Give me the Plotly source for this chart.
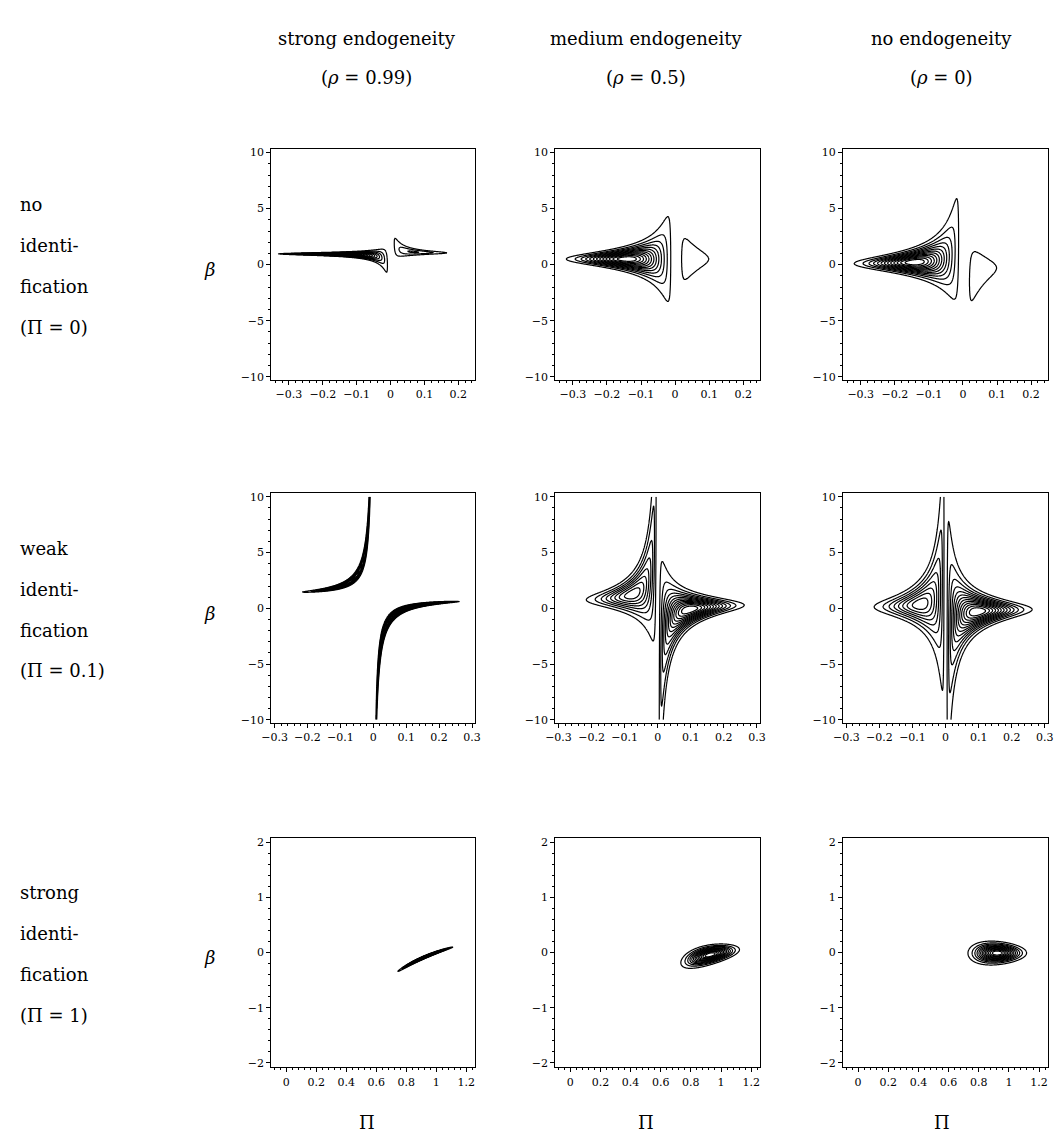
import numpy as np
import plotly.graph_objects as go

# ---------------- data ----------------
rho_values = [0.99, 0.5, 0.0]                 # columns
pi_true = [0, 0.1, 1]                         # rows
col_titles = ["strong endogeneity", "medium endogeneity", "no endogeneity"]
col_subtitles = ["(<i>ρ</i> = 0.99)", "(<i>ρ</i> = 0.5)", "(<i>ρ</i> = 0)"]
row_labels = [["no", "identi-", "fication", "(Π = 0)"],
              ["weak", "identi-", "fication", "(Π = 0.1)"],
              ["strong", "identi-", "fication", "(Π = 1)"]]

# reduced-form estimates (Π̂, Π̂β̂) and their standard error, per panel [row][col]
pi_hat = [[-0.07, -0.09, -0.09],
          [0.02, 0.02, 0.02],
          [0.92, 0.92, 0.915]]
pibeta_hat = [[-0.0593, -0.045, -0.03],
              [-0.0802, -0.048, -0.028],
              [-0.0792, -0.042, -0.009]]
std_err = [[0.095, 0.085, 0.085],
           [0.085, 0.085, 0.085],
           [0.08, 0.085, 0.085]]
n_levels = 13

# axes per row
x_ranges = [[-0.352, 0.25], [-0.31, 0.31], [-0.1, 1.26]]
y_ranges = [[-10.3, 10.3], [-10.3, 10.3], [-2.08, 2.08]]
x_dtick = [0.1, 0.1, 0.2]
x_minor = [0.02, 0.02, 0.04]
y_dtick = [5, 5, 1]
y_minor = [1, 1, 0.2]
grid_pi = [[-0.35, 0.25], [-0.3, 0.3], [0.5, 1.3]]
grid_beta = [[-10, 10], [-10, 10], [-0.9, 0.7]]
grid_n = [(451, 601), (451, 601), (321, 321)]

# ---------------- layout (pixels) ----------------
W, H = 1060, 1148
col_x = [(265, 472), (553, 761), (845, 1053)]
row_y = [(147, 379), (493, 724), (839, 1070)]
title_x = [362, 645, 945]
title_y = [36, 75]
SERIF = "DejaVu Serif"
label_font = dict(family=SERIF, size=18, color="black")
tick_font = dict(family=SERIF, size=11, color="black")


def density(PI, B, a1, a2, s, r):
    u = PI * B - a1
    v = PI - a2
    q = (u ** 2 - 2 * r * u * v + v ** 2) / (s ** 2 * (1 - r ** 2))
    return np.abs(PI) * np.exp(-0.5 * q)


fig = go.Figure()
annotations = []
k = 0
for i in range(3):
    for j in range(3):
        k += 1
        nx, ny = grid_n[i]
        px = np.linspace(grid_pi[i][0], grid_pi[i][1], nx)
        by = np.linspace(grid_beta[i][0], grid_beta[i][1], ny)
        PI, B = np.meshgrid(px, by)
        z = density(PI, B, pibeta_hat[i][j], pi_hat[i][j], std_err[i][j], rho_values[j])
        z = np.round(z / z.max() * 1000).astype(int)
        step = 1000.0 / (n_levels + 1)
        xa = "x" if k == 1 else f"x{k}"
        ya = "y" if k == 1 else f"y{k}"
        fig.add_trace(go.Contour(
            x=np.round(px, 5).tolist(), y=np.round(by, 5).tolist(), z=z.tolist(),
            xaxis=xa, yaxis=ya,
            contours=dict(coloring="lines", start=step, end=step * n_levels, size=step),
            colorscale=[[0, "black"], [1, "black"]],
            line=dict(width=1.2), showscale=False, hoverinfo="skip",
        ))
        x0, x1 = col_x[j]
        y0, y1 = row_y[i]
        common = dict(showline=True, mirror=True, linecolor="black", linewidth=1,
                      ticks="outside", ticklen=4, tickwidth=1, tickcolor="black",
                      showgrid=False, zeroline=False, tickfont=tick_font)
        fig.update_layout(**{
            ("xaxis" if k == 1 else f"xaxis{k}"): dict(
                domain=[x0 / W, x1 / W], anchor=ya, range=x_ranges[i],
                dtick=x_dtick[i], tick0=0,
                minor=dict(ticks="outside", ticklen=2, dtick=x_minor[i], tick0=0,
                           tickcolor="black"),
                **common),
            ("yaxis" if k == 1 else f"yaxis{k}"): dict(
                domain=[1 - y1 / H, 1 - y0 / H], anchor=xa, range=y_ranges[i],
                dtick=y_dtick[i], tick0=0,
                minor=dict(ticks="outside", ticklen=2, dtick=y_minor[i], tick0=0,
                           tickcolor="black"),
                **common),
        })

# column titles
for j in range(3):
    annotations.append(dict(x=title_x[j] / W, y=1 - title_y[0] / H, xref="paper", yref="paper",
                            text=col_titles[j], showarrow=False, font=label_font,
                            xanchor="center", yanchor="middle"))
    annotations.append(dict(x=title_x[j] / W, y=1 - title_y[1] / H, xref="paper", yref="paper",
                            text=col_subtitles[j], showarrow=False, font=label_font,
                            xanchor="center", yanchor="middle"))
    annotations.append(dict(x=title_x[j] / W, y=1 - 1125 / H, xref="paper", yref="paper",
                            text="Π", showarrow=False, font=label_font,
                            xanchor="center", yanchor="middle"))

# row labels and β
for i in range(3):
    yc = (row_y[i][0] + row_y[i][1]) / 2
    for n, line in enumerate(row_labels[i]):
        annotations.append(dict(x=8 / W, y=1 - (yc - 60 + 41 * n) / H, xref="paper", yref="paper",
                                text=line, showarrow=False, font=label_font,
                                xanchor="left", yanchor="middle"))
    annotations.append(dict(x=202 / W, y=1 - (yc + 5) / H, xref="paper", yref="paper",
                            text="<i>β</i>", showarrow=False, font=label_font,
                            xanchor="center", yanchor="middle"))

fig.update_layout(width=W, height=H, margin=dict(l=0, r=0, t=0, b=0),
                  paper_bgcolor="white", plot_bgcolor="white",
                  showlegend=False, annotations=annotations)
fig.write_html("out.html")
